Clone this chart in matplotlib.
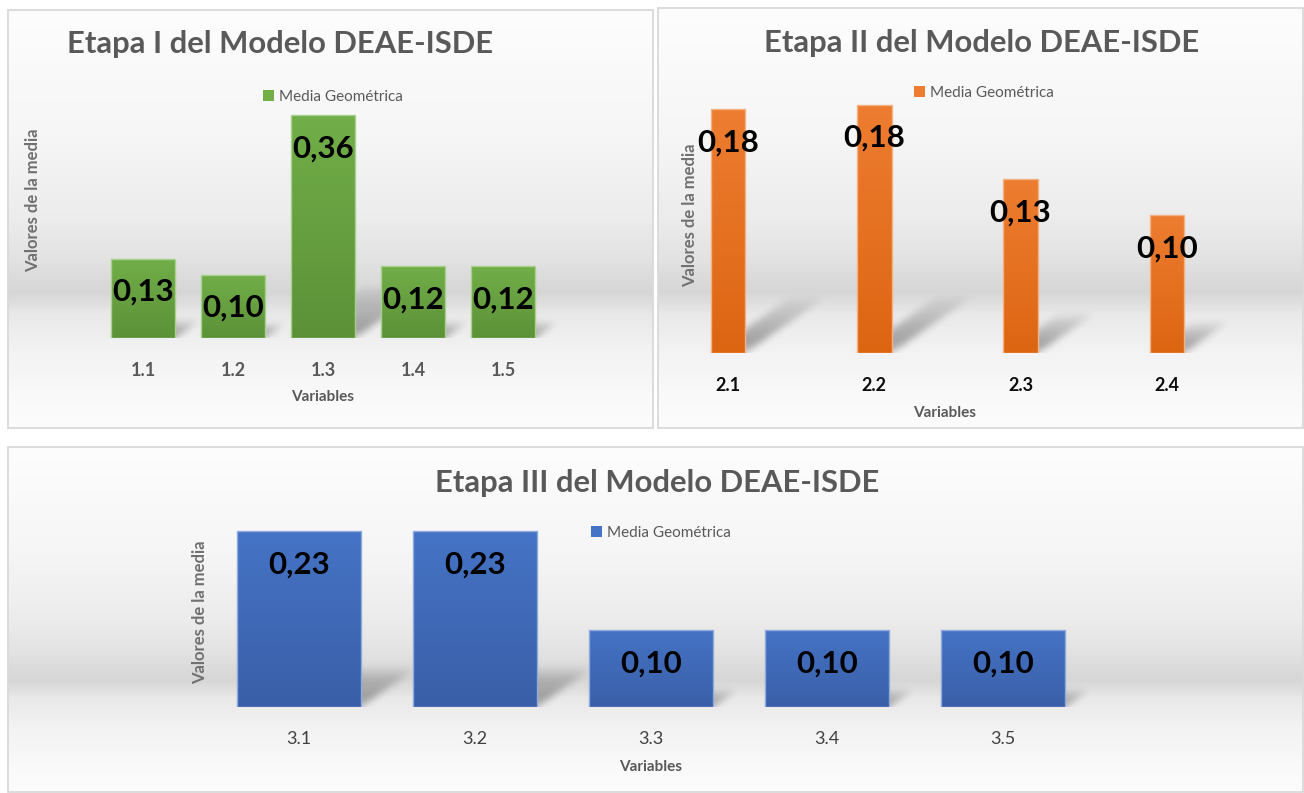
import numpy as np
import matplotlib
matplotlib.use("Agg")
import matplotlib.pyplot as plt
from matplotlib.patches import Rectangle, Patch
from matplotlib.colors import to_rgb

# ---------------- data ----------------
titles = ["Etapa I del Modelo DEAE-ISDE",
          "Etapa II del Modelo DEAE-ISDE",
          "Etapa III del Modelo DEAE-ISDE"]
cats1 = ["1.1", "1.2", "1.3", "1.4", "1.5"]
vals1 = [0.128, 0.102, 0.360, 0.116, 0.116]
cats2 = ["2.1", "2.2", "2.3", "2.4"]
vals2 = [0.177, 0.180, 0.126, 0.100]
cats3 = ["3.1", "3.2", "3.3", "3.4", "3.5"]
vals3 = [0.23, 0.23, 0.10, 0.10, 0.10]
legend_label = "Media Geométrica"
xlabel = "Variables"
ylabel = "Valores de la media"

plt.rcParams['font.family'] = ['Lato', 'DejaVu Sans']

W, H = 1304, 793
DPI = 100
fig = plt.figure(figsize=(W / DPI, H / DPI), dpi=DPI)
fig.patch.set_facecolor("white")


def rect(x0, y0, x1, y1):
    return [x0 / W, 1 - y1 / H, (x1 - x0) / W, (y1 - y0) / H]


def background(box):
    ax = fig.add_axes(rect(*box), zorder=0)
    stops_t = [0.0, 0.30, 0.50, 0.60, 0.675, 0.70, 0.73, 0.82, 0.92, 1.0]
    stops_g = [253, 246, 236, 226, 214, 222, 233, 243, 249, 252]
    t = np.linspace(0, 1, 400)
    g = np.interp(t, stops_t, stops_g) / 255.0
    img = np.repeat(g[:, None], 2, axis=1)
    img = np.dstack([img, img, img])
    ax.imshow(img, extent=(0, 1, 0, 1), aspect="auto", interpolation="bilinear")
    ax.set_xlim(0, 1)
    ax.set_ylim(0, 1)
    ax.axis("off")
    ax.add_patch(Rectangle((0, 0), 1, 1, transform=ax.transAxes, fill=False,
                           edgecolor="#d9d9d9", lw=1.3, clip_on=False))
    return ax


def blur1d(a, sigma, axis):
    r = int(3 * sigma)
    k = np.exp(-0.5 * (np.arange(-r, r + 1) / sigma) ** 2)
    k /= k.sum()
    return np.apply_along_axis(lambda m: np.convolve(m, k, mode="same"), axis, a)


def panel(box, axpx, ymax, cats, vals, width, top_c, bot_c, edge_c,
          title, title_xy, leg_xy, tick_style, tick_pad, varxy, ylxy, shadow=(0.33, 0.23)):
    background(box)
    x0, y0, x1, y1 = axpx  # pixel box for data axes (y0 = top px)
    ax = fig.add_axes(rect(x0, y0, x1, y1), zorder=1)
    ax.patch.set_alpha(0)
    n = len(cats)
    x = np.arange(n)
    xlim = (-0.5, n - 0.5)
    # ---- shadows (computed in pixel space of the axes) ----
    sx = (x1 - x0) / (xlim[1] - xlim[0])
    sy = (y1 - y0) / ymax
    ext_r = 0.6
    nx = int(round((xlim[1] + ext_r - xlim[0]) * sx))
    ny = int(round(ymax * sy))
    px = np.arange(nx) + 0.5
    py = np.arange(ny) + 0.5
    PX, PY = np.meshgrid(px, py[::-1])
    inten = np.zeros_like(PX)
    for xi, v in zip(x, vals):
        hpx = v * sy
        dx, dy = shadow[0] * hpx, shadow[1] * hpx
        xl = (xi - width / 2 - xlim[0]) * sx
        xr = (xi + width / 2 - xlim[0]) * sx
        s = PY / dy
        shift = PY * dx / dy
        m = (PY <= dy) & (PX >= xl + shift) & (PX <= xr + shift)
        f = np.clip(1 - s, 0, 1) ** 0.7 * np.clip(0.6 + 2.0 * s, 0, 1)
        inten = np.maximum(inten, np.where(m, f, 0))
    inten = blur1d(inten, 3.5, 0)
    inten = blur1d(inten, 3.5, 1)
    rgba = np.zeros((ny, nx, 4))
    rgba[..., 3] = 0.38 * inten
    im = ax.imshow(rgba, extent=(xlim[0], xlim[1] + ext_r, 0, ymax), aspect="auto",
                   interpolation="bilinear", zorder=1)
    im.set_clip_on(False)
    # ---- bars with vertical gradient ----
    bars = ax.bar(x, vals, width, facecolor="none", edgecolor=edge_c, lw=1.0,
                  zorder=3, label=legend_label)
    tc, bc = np.array(to_rgb(top_c)), np.array(to_rgb(bot_c))
    tt = np.linspace(0, 1, 200)[:, None]
    grad = (tc[None, :] * (1 - tt) + bc[None, :] * tt)[:, None, :]
    for b, xi, v in zip(bars, x, vals):
        gi = ax.imshow(grad, extent=(xi - width / 2, xi + width / 2, 0, v),
                       aspect="auto", zorder=2, interpolation="bilinear")
        gi.set_clip_path(b)
        ax.annotate(f"{v:.2f}".replace(".", ","), xy=(xi, v), xytext=(0, -33),
                    textcoords="offset pixels", ha="center", va="center",
                    fontsize=22.5, fontweight="bold", color="black", zorder=5)
    ax.set_xlim(*xlim)
    ax.set_ylim(0, ymax)
    for sp in ax.spines.values():
        sp.set_visible(False)
    ax.set_yticks([])
    ax.set_xticks(x, cats)
    ax.tick_params(axis="x", length=0, pad=tick_pad)
    for lab in ax.get_xticklabels():
        lab.set_fontsize(tick_style[0])
        lab.set_fontweight(tick_style[1])
        lab.set_color(tick_style[2])
    ax.legend(handles=[Patch(facecolor=top_c, edgecolor="none", label=legend_label)],
              loc="center", bbox_to_anchor=(leg_xy[0] / W, 1 - leg_xy[1] / H),
              bbox_transform=fig.transFigure, frameon=False, fontsize=11,
              handlelength=0.7, handleheight=0.7, handletextpad=0.3,
              labelcolor="#595959")
    fig.text(title_xy[0] / W, 1 - title_xy[1] / H, title, ha="center", va="baseline",
             fontsize=22.3, fontweight="bold", color="#595959")
    fig.text(varxy[0] / W, 1 - varxy[1] / H, xlabel, ha="center", va="center",
             fontsize=11, fontweight="bold", color="#595959")
    fig.text(ylxy[0] / W, 1 - ylxy[1] / H, ylabel, ha="center", va="center",
             rotation=90, fontsize=12, fontweight="bold", color="#707070")
    return ax


# Panel 1
panel(box=(8, 10, 653, 428), axpx=(98, 338 - 0.40 * 619, 548, 338), ymax=0.40,
      cats=cats1, vals=vals1, width=0.71,
      top_c="#71ae48", bot_c="#5c9138", edge_c="#a9d18e",
      title=titles[0], title_xy=(280, 53), leg_xy=(333, 97),
      tick_style=(13, "bold", "#595959"), tick_pad=17, varxy=(323, 397), ylxy=(33, 200))

# Panel 2
panel(box=(658, 8, 1303, 428), axpx=(655, 353 - 0.20 * 1378, 1240, 353), ymax=0.20,
      cats=cats2, vals=vals2, width=0.235,
      top_c="#ee7d31", bot_c="#dc6512", edge_c="#f4b183",
      title=titles[1], title_xy=(982, 52), leg_xy=(984, 93),
      tick_style=(13, "bold", "#0d0d0d"), tick_pad=17.5, varxy=(945, 413), ylxy=(690, 215))

# Panel 3
panel(box=(8, 447, 1303, 792), axpx=(211, 706.5 - 0.25 * 761, 1091, 706.5), ymax=0.25,
      cats=cats3, vals=vals3, width=0.705,
      top_c="#4573c5", bot_c="#3a5fa8", edge_c="#8faadc",
      title=titles[2], title_xy=(657, 492), leg_xy=(661, 533),
      tick_style=(13, "normal", "#404040"), tick_pad=17.5, varxy=(651, 767), ylxy=(200, 612))

fig.savefig("out.png", dpi=DPI, facecolor="white")
